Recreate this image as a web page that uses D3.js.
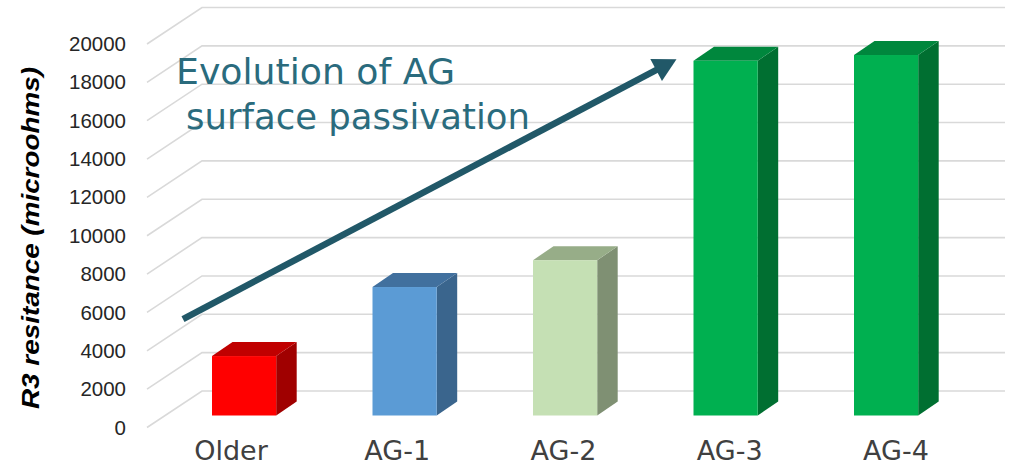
<!DOCTYPE html>
<html>
<head>
<meta charset="utf-8">
<script src="https://cdn.jsdelivr.net/npm/d3@7"></script>
<style>
  html, body { margin: 0; padding: 0; background: #ffffff; }
  svg { display: block; }
</style>
</head>
<body>
<svg id="chart" width="1013" height="467"></svg>
<script>
// Categories and R3 resistance per sample group (microohms)
const categories = ["Older", "AG-1", "AG-2", "AG-3", "AG-4"];
const resistance = [3100, 6700, 8100, 18500, 18800];
const yTicks = [0, 2000, 4000, 6000, 8000, 10000, 12000, 14000, 16000, 18000, 20000];

// Face colours for each column: front, top, side
const frontColors = ["#FF0000", "#5B9BD5", "#C5E0B4", "#00B050", "#00B050"];
const topColors   = ["#C00000", "#41709E", "#97AD88", "#00873D", "#00873D"];
const sideColors  = ["#A00000", "#3A658D", "#7F9073", "#006F31", "#006F31"];

const svg = d3.select("#chart");

// Oblique 3D layout
const wallLeft = 202, wallRight = 1005;   // back wall extent
const axisFrontX = 147;                    // front edge of the side wall
const wallDepthY = 36.5;                   // vertical shift from wall to front edge
const faceDepthY = 24.5;                   // vertical shift from wall to column fronts
const barDx = 20.5, barDy = 14;            // column depth

const yBack = d3.scaleLinear().domain([0, 20000]).range([391, 7.5]);
const yFront = v => yBack(v) + wallDepthY;
const yFace = v => yBack(v) + faceDepthY;

const x = d3.scaleBand()
  .domain(categories)
  .range([163.85, 966.35])
  .paddingInner(0.6)
  .paddingOuter(0.3);
const bw = x.bandwidth();

const xLabel = d3.scalePoint().domain(categories).range([231, 896]);

// Gridlines: diagonal on the side wall, horizontal on the back wall
const grid = svg.append("g").attr("stroke", "#D9D9D9").attr("stroke-width", 1.6).attr("fill", "none");
grid.selectAll("path.g").data(yTicks).join("path")
  .attr("class", "g")
  .attr("d", v => `M${axisFrontX},${yFront(v)}L${wallLeft},${yBack(v)}L${wallRight},${yBack(v)}`);

// Tick labels
const yAxisScale = d3.scaleLinear().domain([0, 20000]).range([yFront(0), yFront(20000)]);
const yAxis = svg.append("g")
  .attr("transform", "translate(129,0)")
  .call(d3.axisLeft(yAxisScale).tickValues(yTicks).tickSize(0).tickPadding(3).tickFormat(d3.format("d")));
yAxis.select(".domain").remove();
yAxis.selectAll("text")
  .attr("font-family", "'Liberation Sans', Arial, sans-serif")
  .attr("font-size", 20.5)
  .attr("fill", "#262626");

// Axis title
svg.append("text")
  .attr("transform", `translate(39,${238}) rotate(-90)`)
  .attr("text-anchor", "middle")
  .attr("font-family", "'Liberation Sans', Arial, sans-serif")
  .attr("font-weight", "bold")
  .attr("font-style", "italic")
  .attr("font-size", 23)
  .attr("textLength", 342)
  .attr("lengthAdjust", "spacingAndGlyphs")
  .attr("fill", "#000000")
  .text("R3 resitance (microohms)");

// Columns
const data = categories.map((c, i) => ({ c, v: resistance[i], i }));
const bars = svg.append("g").selectAll("g.bar").data(data).join("g").attr("class", "bar");

bars.append("path")
  .attr("fill", d => sideColors[d.i])
  .attr("d", d => {
    const x0 = x(d.c) + bw, yt = yFace(d.v), yb = yFace(0);
    return `M${x0},${yt}L${x0 + barDx},${yt - barDy}L${x0 + barDx},${yb - barDy}L${x0},${yb}Z`;
  });
bars.append("path")
  .attr("fill", d => topColors[d.i])
  .attr("d", d => {
    const x0 = x(d.c), yt = yFace(d.v);
    return `M${x0},${yt}L${x0 + barDx},${yt - barDy}L${x0 + bw + barDx},${yt - barDy}L${x0 + bw},${yt}Z`;
  });
bars.append("rect")
  .attr("fill", d => frontColors[d.i])
  .attr("x", d => x(d.c))
  .attr("y", d => yFace(d.v))
  .attr("width", bw)
  .attr("height", d => yFace(0) - yFace(d.v));

// Category labels
svg.append("g").selectAll("text").data(categories).join("text")
  .attr("x", d => xLabel(d))
  .attr("y", 459.5)
  .attr("text-anchor", "middle")
  .attr("font-family", "'DejaVu Sans', sans-serif")
  .attr("font-size", 27)
  .attr("fill", "#404040")
  .text(d => d);

// Trend arrow
const arrowColor = "#215868";
const ax0 = x("Older") - 29, ay0 = yFace(5030);
const ax1 = x("AG-3") - 17, ay1 = yFace(18576);
const ang = Math.atan2(ay1 - ay0, ax1 - ax0);
const headLen = 23, headHalf = 12.5;
const bx = ax1 - headLen * Math.cos(ang), by = ay1 - headLen * Math.sin(ang);
svg.append("line")
  .attr("x1", ax0).attr("y1", ay0)
  .attr("x2", bx + 2 * Math.cos(ang)).attr("y2", by + 2 * Math.sin(ang))
  .attr("stroke", arrowColor)
  .attr("stroke-width", 6.5);
svg.append("path")
  .attr("fill", arrowColor)
  .attr("d", `M${ax1},${ay1}L${bx - headHalf * Math.sin(ang)},${by + headHalf * Math.cos(ang)}L${bx + headHalf * Math.sin(ang)},${by - headHalf * Math.cos(ang)}Z`);

// Annotation
const note = svg.append("g")
  .attr("font-family", "'DejaVu Sans', sans-serif")
  .attr("font-size", 35)
  .attr("fill", "#2A6B7D");
note.append("text").attr("x", 176).attr("y", 84)
  .attr("textLength", 279).attr("lengthAdjust", "spacingAndGlyphs")
  .text("Evolution of AG");
note.append("text").attr("x", 186).attr("y", 129)
  .attr("textLength", 344).attr("lengthAdjust", "spacingAndGlyphs")
  .text("surface passivation");
</script>
</body>
</html>
